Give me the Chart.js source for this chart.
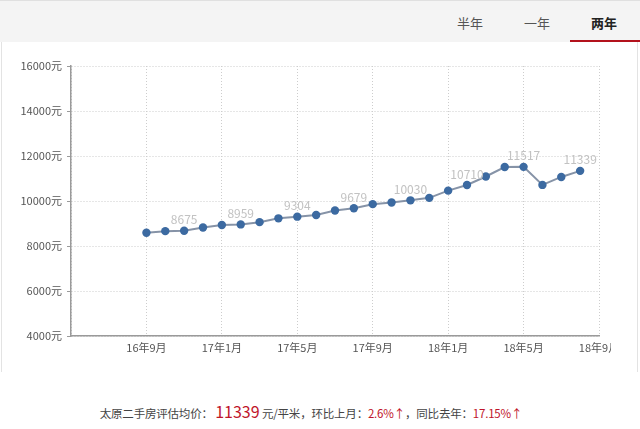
<!DOCTYPE html>
<html>
<head>
<meta charset="utf-8">
<script src="https://cdn.jsdelivr.net/npm/chart.js@4.4.1/dist/chart.umd.min.js"></script>
<style>
    body { margin: 0; width: 640px; height: 429px; background: #fff; position: relative; overflow: hidden;
           font-family: "Microsoft YaHei", "Noto Sans CJK SC", sans-serif; }
    .topbar { position: absolute; left: 0; top: 0; width: 640px; height: 41px; background: #f4f4f4; border-top: 1px solid #e0e0e0; }
    .tab { position: absolute; top: 12px; font-size: 13px; color: #555; width: 50px; text-align: center; }
    .tab.on { color: #222; font-weight: bold; }
    .underline { position: absolute; left: 570px; top: 40px; width: 70px; height: 2px; background: #b3121c; }
    .panel { position: absolute; left: 1px; top: 42px; width: 635px; height: 330px; border-left: 1px solid #e3e3e3; border-right: 1px solid #e3e3e3; }
    .chartBox { position: absolute; left: 0; top: 42px; width: 611px; height: 330px; overflow: hidden; }
    .summary { position: absolute; left: 0; top: 399px; width: 622px; text-align: center; font-size: 11.5px; color: #444; letter-spacing: -0.2px; }
    .summary .big { color: #c0152a; font-size: 16px; letter-spacing: 0; }
    .summary .red { color: #c0152a; }
</style>
</head>
<body>
<div class="topbar">
    <div class="tab" style="left:445px">半年</div>
    <div class="tab" style="left:512px">一年</div>
    <div class="tab on" style="left:579px">两年</div>
</div>
<div class="underline"></div>
<div class="panel"></div>
<div class="chartBox"><canvas id="priceChart" width="640" height="330" style="width:640px;height:330px"></canvas></div>
<div class="summary">太原二手房评估均价： <span class="big">11339</span> 元/平米，环比上月：<span class="red">2.6%↑</span>，同比去年：<span class="red">17.15%↑</span></div>

<script>
// axis runs from 16年5月 to 18年9月, one slot per month
const axisMonths = ['16年5月', '16年6月', '16年7月', '16年8月', '16年9月', '16年10月', '16年11月', '16年12月',
    '17年1月', '17年2月', '17年3月', '17年4月', '17年5月', '17年6月', '17年7月', '17年8月',
    '17年9月', '17年10月', '17年11月', '17年12月', '18年1月', '18年2月', '18年3月', '18年4月',
    '18年5月', '18年6月', '18年7月', '18年8月', '18年9月'];
const xTickLabels = ['16年9月', '17年1月', '17年5月', '17年9月', '18年1月', '18年5月', '18年9月'];

const months = ['16年9月', '16年10月', '16年11月', '16年12月', '17年1月', '17年2月', '17年3月', '17年4月',
    '17年5月', '17年6月', '17年7月', '17年8月', '17年9月', '17年10月', '17年11月', '17年12月',
    '18年1月', '18年2月', '18年3月', '18年4月', '18年5月', '18年6月', '18年7月', '18年8月'];
const prices = [8590, 8660, 8675, 8825, 8935, 8959, 9060, 9230, 9304, 9380, 9580, 9679,
    9860, 9935, 10030, 10140, 10460, 10710, 11090, 11510, 11517, 10715, 11070, 11339];
// only every third value gets a label
const labelledMonths = ['16年11月', '17年2月', '17年5月', '17年8月', '17年11月', '18年2月', '18年5月', '18年8月'];

const yTicks = [4000, 6000, 8000, 10000, 12000, 14000, 16000];

const pointLabels = {
    id: 'pointLabels',
    afterDatasetsDraw(chart) {
        const ctx = chart.ctx;
        const meta = chart.getDatasetMeta(0);
        ctx.save();
        ctx.font = '12px "Microsoft YaHei", "Noto Sans CJK SC", sans-serif';
        ctx.fillStyle = '#c2c2c2';
        ctx.textAlign = 'center';
        ctx.textBaseline = 'middle';
        meta.data.forEach((pt, i) => {
            if (labelledMonths.includes(months[i])) {
                ctx.fillText(prices[i], pt.x, pt.y - 11);
            }
        });
        ctx.restore();
    }
};

const gridColor = '#cdcdcd';
const tickFont = { family: '"Microsoft YaHei", "Noto Sans CJK SC", sans-serif', size: 11 };

new Chart(document.getElementById('priceChart').getContext('2d'), {
    type: 'line',
    data: {
        labels: axisMonths,
        datasets: [{
            data: months.map((m, i) => ({ x: m, y: prices[i] })),
            borderColor: '#8693a7',
            borderWidth: 2,
            backgroundColor: '#3c6aa1',
            pointBackgroundColor: '#3c6aa1',
            pointBorderWidth: 0,
            pointRadius: 4.2,
            tension: 0,
            fill: false
        }]
    },
    options: {
        responsive: false,
        animation: false,
        layout: { padding: { top: 24, right: 41, left: 0, bottom: 0 } },
        plugins: {
            legend: { display: false },
            tooltip: { enabled: false }
        },
        scales: {
            x: {
                offset: false,
                afterFit: scale => { scale.height = 36; },
                grid: {
                    color: c => (c.index % 4 === 0 ? gridColor : 'transparent'),
                    drawTicks: false
                },
                border: { color: '#9a9a9a', width: 1.5, dash: [1, 2] },
                ticks: {
                    autoSkip: false,
                    maxRotation: 0,
                    padding: 5,
                    color: '#555',
                    font: tickFont,
                    callback: function(v, i) {
                        const lab = axisMonths[i];
                        return xTickLabels.includes(lab) ? lab : '';
                    }
                }
            },
            y: {
                min: 4000,
                max: 16000,
                afterFit: scale => { scale.width = 71; },
                afterBuildTicks: scale => { scale.ticks = yTicks.map(v => ({ value: v })); },
                grid: {
                    color: gridColor,
                    tickColor: '#9a9a9a',
                    tickLength: 4,
                    tickBorderDash: []
                },
                border: { color: '#9a9a9a', width: 1.5, dash: [1, 2] },
                ticks: {
                    padding: 5,
                    color: '#555',
                    font: tickFont,
                    callback: v => v + '元'
                }
            }
        }
    },
    plugins: [pointLabels]
});
</script>
</body>
</html>
